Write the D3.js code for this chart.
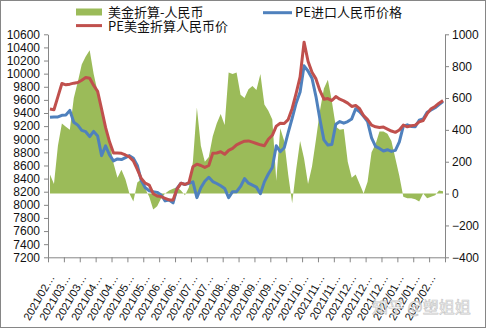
<!DOCTYPE html>
<html><head><meta charset="utf-8">
<script src="https://cdn.jsdelivr.net/npm/d3@7/dist/d3.min.js"></script>
<style>body{margin:0;background:#fff} svg{display:block}</style>
</head><body><svg id="c" width="486" height="328"></svg>
<script>
const tickLabels = ["2021/02…","2021/03…","2021/03…","2021/04…","2021/04…","2021/05…","2021/05…","2021/06…","2021/06…","2021/07…","2021/07…","2021/08…","2021/08…","2021/09…","2021/09…","2021/10…","2021/10…","2021/11…","2021/11…","2021/12…","2021/12…","2021/12…","2022/01…","2022/01…","2022/02…"];
const leftTicks = [7200,7400,7600,7800,8000,8200,8400,8600,8800,9000,9200,9400,9600,9800,10000,10200,10400,10600];
const rightTicks = [-400,-200,0,200,400,600,800,1000];
const seriesNames = ["美金折算-人民币","PE进口人民币价格","PE美金折算人民币价"];
// green area, right axis
const usdMinusRmb = [120,60,300,440,420,400,600,700,810,860,
  900,750,640,530,410,330,190,100,150,90,
  0,-50,70,90,30,-20,-100,-80,-30,0,
  20,30,40,20,-10,40,200,540,300,200,
  230,360,440,500,430,760,750,760,620,600,
  655,675,650,750,560,520,465,80,410,330,
  120,-60,150,330,220,60,170,340,520,660,
  715,580,420,400,405,200,100,120,60,0,
  75,260,310,390,390,375,330,220,110,-20,
  -30,-30,-35,-50,0,-30,-20,-10,20,15];
// blue line, left axis
const peImport = [9335,9340,9340,9365,9370,9440,9260,9215,9135,9115,
  9040,9120,9050,8750,8900,8760,8670,8700,8690,8720,
  8750,8709,8600,8370,8260,8215,8200,8190,8150,8060,
  8073,8030,8250,8330,8310,8327,8350,8110,8260,8360,
  8420,8355,8325,8290,8250,8110,8200,8200,8280,8400,
  8330,8300,8270,8170,8350,8470,8570,8900,8810,8870,
  9100,9320,9550,9720,10120,10040,9930,9650,9300,8990,
  8911,8920,9230,9270,9245,9270,9310,9465,9420,9350,
  9270,9020,8890,8860,8820,8840,8815,8830,8960,9200,
  9220,9195,9190,9290,9310,9410,9445,9480,9530,9575];
// red line, left axis
const peUsdConv = [9460,9450,9650,9850,9830,9840,9855,9865,9900,9940,
  9930,9820,9730,9460,9180,8960,8790,8790,8785,8760,
  8730,8670,8540,8400,8330,8300,8170,8135,8125,8100,
  8075,8075,8240,8330,8310,8340,8580,8620,8600,8570,
  8600,8785,8790,8810,8770,8830,8860,8915,8945,8970,
  8975,8955,8935,8915,8900,9000,9060,9200,9245,9240,
  9300,9470,9700,9950,10480,10190,10020,9920,9740,9610,
  9620,9590,9650,9610,9585,9550,9500,9515,9465,9360,
  9300,9215,9190,9180,9185,9155,9125,9105,9140,9215,
  9190,9205,9215,9265,9285,9390,9465,9500,9550,9590];
const labelEvery = 4;

const green = "#9BBB59", blue = "#4F81BD", red = "#C0504D", axisCol = "#868686";
const N = peImport.length;
const svg = d3.select("#c");
const font = "'Liberation Sans', Arial, sans-serif";
const cjk = "'Noto Sans CJK SC', sans-serif";

svg.append("rect").attr("x",0.5).attr("y",0.5).attr("width",485).attr("height",327)
  .attr("fill","#fff").attr("stroke",axisCol);

const L = 48, R = 445, T = 34.3, B = 257.3;
const x = d3.scaleLinear().domain([-0.5, N-0.5]).range([L, R]);
const yL = d3.scaleLinear().domain([7200,10600]).range([B, T]);
const yR = d3.scaleLinear().domain([-400,1000]).range([B, T]);

svg.append("path").datum(usdMinusRmb)
  .attr("fill", green)
  .attr("d", d3.area().x((d,i)=>x(i)).y0(yR(0)).y1(d=>yR(d)));

const line = (sc) => d3.line().x((d,i)=>x(i)).y(d=>sc(d));
svg.append("path").datum(peImport).attr("fill","none").attr("stroke",blue)
  .attr("stroke-width",3).attr("stroke-linejoin","round").attr("d", line(yL));
svg.append("path").datum(peUsdConv).attr("fill","none").attr("stroke",red)
  .attr("stroke-width",3).attr("stroke-linejoin","round").attr("d", line(yL));

function styleAxis(g){
  g.selectAll("path,line").attr("stroke",axisCol);
  g.selectAll("text").attr("fill","#111").style("font-family",font).style("font-size","12px");
}
svg.append("g").attr("transform",`translate(${L},0)`)
  .call(d3.axisLeft(yL).tickValues(leftTicks).tickSize(4).tickSizeOuter(0).tickPadding(4).tickFormat(d3.format("d")))
  .call(styleAxis);
svg.append("g").attr("transform",`translate(${R},0)`)
  .call(d3.axisRight(yR).tickValues(rightTicks).tickSize(4).tickSizeOuter(0).tickPadding(3).tickFormat(d3.format("d")))
  .call(styleAxis);
const xTicks = d3.range(0, tickLabels.length+1).map(k => k*labelEvery - 0.5);
svg.append("g").attr("transform",`translate(0,${B})`)
  .call(d3.axisBottom(x).tickValues(xTicks).tickSize(5).tickSizeOuter(0).tickFormat(""))
  .call(styleAxis);
svg.append("g").selectAll("text").data(tickLabels).join("text")
  .attr("transform",(d,k)=>`translate(${x(k*labelEvery)+5},${B+20}) rotate(-60)`)
  .attr("text-anchor","end").attr("fill","#111")
  .style("font-family",font).style("font-size","11px").text(d=>d);

const lg = svg.append("g").style("font-family",cjk).style("font-size","13px").attr("fill","#111");
lg.append("rect").attr("x",76).attr("y",8.5).attr("width",26).attr("height",7).attr("fill",green);
lg.append("text").attr("x",108).attr("y",16.8).text(seriesNames[0]);
lg.append("line").attr("x1",263).attr("x2",292).attr("y1",12.7).attr("y2",12.7).attr("stroke",blue).attr("stroke-width",3);
lg.append("text").attr("x",295).attr("y",16.8).text(seriesNames[1]);
lg.append("line").attr("x1",76).attr("x2",102).attr("y1",25.6).attr("y2",25.6).attr("stroke",red).attr("stroke-width",3);
lg.append("text").attr("x",108).attr("y",30.6).text(seriesNames[2]);

svg.append("text").attr("x",372).attr("y",313).text("知乎 @塑姐姐")
  .style("font-family",cjk).style("font-size","16px")
  .attr("fill","#fff").attr("fill-opacity",0.8).attr("stroke","#b8b8b8").attr("stroke-width",0.7).attr("stroke-opacity",0.8);
</script></body></html>
